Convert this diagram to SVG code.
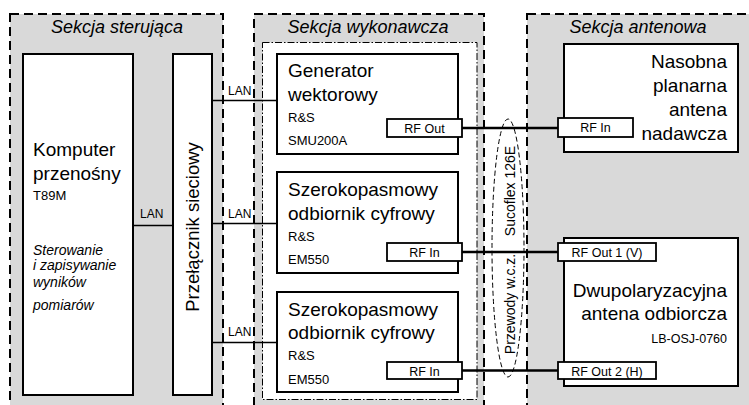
<svg xmlns="http://www.w3.org/2000/svg" width="749" height="405" viewBox="0 0 749 405">
<style>
text{font-family:"Liberation Sans",Arial,sans-serif;fill:#000}
.sec{fill:#d9d9d9;stroke:#000;stroke-width:2;stroke-dasharray:9 5}
.inner{fill:#fff;stroke:#000;stroke-width:1;stroke-dasharray:7 2 1.5 2}
.box{fill:#fff;stroke:#000;stroke-width:2}
.port{fill:#fff;stroke:#000;stroke-width:1.8}
.lan{stroke:#000;stroke-width:1.3;fill:none}
.rf{stroke:#000;stroke-width:2.5;fill:none}
.ttl{font-size:18px;font-style:italic;text-anchor:middle}
.big{font-size:19px}
.sm{font-size:13px}
.pt{font-size:12.5px;text-anchor:middle}
.lbl{font-size:12px}
.it{font-size:14px;font-style:italic}
.r{text-anchor:end}
</style>
<g id="sekcja-sterujaca">
<rect class="sec" x="10" y="14" width="213" height="400"/>
<text class="ttl" x="117" y="33">Sekcja sterująca</text>
</g>
<g id="sekcja-wykonawcza">
<rect class="sec" x="254" y="14" width="230" height="400"/>
<text class="ttl" x="368" y="33">Sekcja wykonawcza</text>
<rect class="inner" x="262.5" y="42.5" width="214.5" height="357"/>
</g>
<g id="sekcja-antenowa">
<rect class="sec" x="527" y="14" width="240" height="400"/>
<text class="ttl" x="638" y="33">Sekcja antenowa</text>
</g>
<g id="connectors">
<line class="lan" x1="133" y1="225.5" x2="173" y2="225.5"/>
<line class="lan" x1="212" y1="100.5" x2="277" y2="100.5"/>
<line class="lan" x1="212" y1="223.5" x2="277" y2="223.5"/>
<line class="lan" x1="212" y1="342.5" x2="277" y2="342.5"/>
<text class="lbl" x="140" y="218">LAN</text>
<text class="lbl" x="228" y="95">LAN</text>
<text class="lbl" x="228" y="218">LAN</text>
<text class="lbl" x="228" y="336">LAN</text>
<line class="rf" x1="462" y1="128" x2="558" y2="128"/>
<line class="rf" x1="462" y1="252" x2="558" y2="252"/>
<line class="rf" x1="462" y1="370.5" x2="558" y2="370.5"/>
<ellipse cx="508" cy="248" rx="16" ry="129" fill="none" stroke="#000" stroke-width="1" stroke-dasharray="5 3"/>
<text font-size="14" text-anchor="middle" transform="translate(514.5,191) rotate(-90)">Sucoflex 126E</text>
<text font-size="14" text-anchor="middle" transform="translate(514.5,304) rotate(-90)">Przewody w.c.z.</text>
</g>
<g id="komputer">
<rect class="box" x="23" y="54" width="110" height="341"/>
<text class="big" x="33" y="156">Komputer</text>
<text class="big" x="33" y="180">przenośny</text>
<text class="sm" x="33" y="200">T89M</text>
<text class="it" x="33" y="255">Sterowanie</text>
<text class="it" x="33" y="270">i zapisywanie</text>
<text class="it" x="33" y="287">wyników</text>
<text class="it" x="33" y="310">pomiarów</text>
</g>
<g id="przelacznik">
<rect class="box" x="173" y="54" width="39" height="341"/>
<text font-size="18.5" text-anchor="middle" transform="translate(199,227) rotate(-90)">Przełącznik sieciowy</text>
</g>
<g id="generator">
<rect class="box" x="277" y="54" width="181" height="100"/>
<text class="big" x="288" y="77">Generator</text>
<text class="big" x="288" y="101">wektorowy</text>
<text class="sm" x="288" y="122">R&amp;S</text>
<text class="sm" x="288" y="145">SMU200A</text>
<rect class="port" x="387" y="119" width="75" height="18"/>
<text class="pt" x="424.5" y="133">RF Out</text>
</g>
<g id="odbiornik-1">
<rect class="box" x="277" y="172" width="181" height="101"/>
<text class="big" x="288" y="196">Szerokopasmowy</text>
<text class="big" x="288" y="220">odbiornik cyfrowy</text>
<text class="sm" x="288" y="241">R&amp;S</text>
<text class="sm" x="288" y="264">EM550</text>
<rect class="port" x="387" y="243" width="75" height="18"/>
<text class="pt" x="424.5" y="257">RF In</text>
</g>
<g id="odbiornik-2">
<rect class="box" x="277" y="292" width="181" height="100"/>
<text class="big" x="288" y="316">Szerokopasmowy</text>
<text class="big" x="288" y="339">odbiornik cyfrowy</text>
<text class="sm" x="288" y="360">R&amp;S</text>
<text class="sm" x="288" y="384">EM550</text>
<rect class="port" x="387" y="362" width="75" height="17"/>
<text class="pt" x="424.5" y="376">RF In</text>
</g>
<g id="antena-nadawcza">
<rect class="box" x="564" y="44" width="174" height="108"/>
<text class="big r" x="727" y="68">Nasobna</text>
<text class="big r" x="727" y="92">planarna</text>
<text class="big r" x="727" y="116">antena</text>
<text class="big r" x="727" y="140">nadawcza</text>
<rect class="port" x="558" y="118" width="75" height="19"/>
<text class="pt" x="595.5" y="132">RF In</text>
</g>
<g id="antena-odbiorcza">
<rect class="box" x="564" y="238" width="174" height="148"/>
<text class="big r" x="727" y="297">Dwupolaryzacyjna</text>
<text class="big r" x="727" y="320">antena odbiorcza</text>
<text class="r" font-size="12.5" x="727" y="343">LB-OSJ-0760</text>
<rect class="port" x="558" y="243" width="98" height="18"/>
<text class="pt" x="607" y="257">RF Out 1 (V)</text>
<rect class="port" x="558" y="362" width="98" height="17"/>
<text class="pt" x="607" y="376">RF Out 2 (H)</text>
</g>
</svg>
